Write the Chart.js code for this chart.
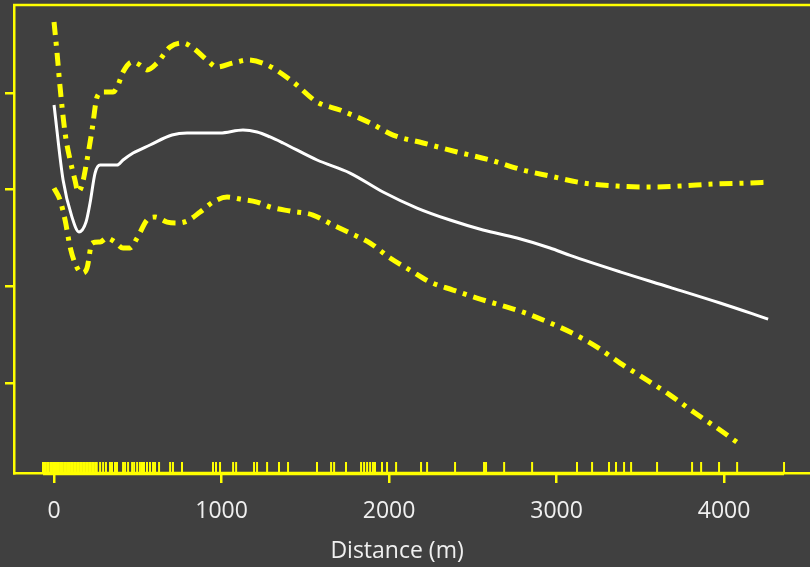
<!DOCTYPE html>
<html lang="en">
<head>
    <meta charset="UTF-8">
    <title>Distance effect</title>
    <script src="https://cdn.jsdelivr.net/npm/chart.js"></script>
    <style>
        html, body {
            margin: 0;
            padding: 0;
            overflow: hidden;
            background-color: #404040;
        }
        canvas {
            display: block;
        }
    </style>
</head>
<body>
    <canvas id="chart" width="810" height="567"></canvas>

    <script>
        // Smoothed fit along distance (m)
        const fitX = [0, 54, 107, 149, 191, 215, 245, 275, 316, 376, 412, 472, 573, 704, 794, 991, 1128, 1212, 1290, 1367, 1570, 1767, 1964, 2167, 2364, 2561, 2764, 2961, 3081, 3379, 3678, 3976, 4263];
        const fitY = [3.876, 3.100, 2.717, 2.562, 2.665, 2.862, 3.172, 3.255, 3.255, 3.255, 3.307, 3.379, 3.462, 3.565, 3.586, 3.586, 3.617, 3.596, 3.545, 3.483, 3.307, 3.172, 2.976, 2.810, 2.686, 2.583, 2.500, 2.397, 2.320, 2.150, 1.990, 1.828, 1.662];

        // Upper confidence band
        const upperX = [0, 18, 36, 66, 96, 125, 143, 167, 197, 227, 257, 293, 352, 382, 412, 466, 513, 555, 615, 693, 770, 830, 913, 973, 1069, 1158, 1272, 1427, 1570, 1707, 1887, 2024, 2203, 2406, 2603, 2800, 2961, 3158, 3361, 3558, 3737, 3934, 4137, 4275];
        const upperY = [4.734, 4.414, 4.062, 3.586, 3.307, 3.100, 2.976, 3.048, 3.307, 3.617, 3.959, 4.010, 4.010, 4.083, 4.217, 4.321, 4.290, 4.238, 4.310, 4.476, 4.517, 4.465, 4.341, 4.269, 4.310, 4.341, 4.290, 4.114, 3.907, 3.824, 3.690, 3.565, 3.483, 3.390, 3.307, 3.203, 3.141, 3.069, 3.038, 3.028, 3.038, 3.059, 3.069, 3.079];

        // Lower confidence band
        const lowerX = [0, 36, 66, 96, 125, 167, 197, 227, 275, 316, 364, 412, 454, 496, 555, 603, 675, 734, 794, 872, 949, 1033, 1110, 1212, 1290, 1409, 1546, 1666, 1767, 1887, 2006, 2125, 2245, 2382, 2525, 2663, 2800, 2949, 3081, 3242, 3379, 3540, 3678, 3827, 3976, 4084];
        const lowerY = [3.017, 2.893, 2.686, 2.407, 2.241, 2.138, 2.190, 2.448, 2.459, 2.500, 2.459, 2.397, 2.397, 2.500, 2.686, 2.717, 2.665, 2.655, 2.676, 2.769, 2.872, 2.924, 2.903, 2.872, 2.821, 2.779, 2.738, 2.634, 2.552, 2.448, 2.293, 2.169, 2.045, 1.962, 1.879, 1.807, 1.734, 1.631, 1.528, 1.372, 1.207, 1.031, 0.876, 0.690, 0.514, 0.379];

        // Observed distances (rug)
        const rugX = [-66, -58, -49, -40, -33, -22, -14, -6, 3, 11, 18, 27, 36, 44, 52, 61, 70, 78, 87, 95, 104, 112, 121, 130, 139, 147, 156, 165, 174, 183, 192, 201, 210, 219, 228, 237, 246, 255,
            275, 293, 310, 334, 346, 364, 376, 412, 424, 442, 466, 478, 496, 513, 525, 537, 555, 573, 591, 603, 627, 693, 710, 764,
            949, 967, 991, 1069, 1087, 1194, 1212, 1272, 1343, 1397, 1570, 1654, 1672, 1743, 1833, 1851, 1869, 1887, 1904, 1916, 1958, 1988,
            2042, 2191, 2227, 2394, 2567, 2579, 2687, 2854, 3122, 3212, 3313, 3355, 3403, 3445, 3600, 3809, 3863, 3970, 4078, 4358];

        const xTicks = [0, 1000, 2000, 3000, 4000];
        const yTicks = [1, 2, 3, 4];

        const YELLOW = '#ffff00';
        const TEXT = '#f0f0f0';
        const X_MIN = -239, X_MAX = 4513;
        const Y_MIN = 0.07, Y_MAX = 4.91;
        const RUG_Y = Y_MIN + 0.057;

        const toPoints = (xs, ys) => xs.map((x, i) => ({ x: x, y: ys[i] }));

        // background, top edge of the frame and the rug baseline
        const framePlugin = {
            id: 'frame',
            beforeDraw(chart) {
                const ctx = chart.ctx;
                ctx.save();
                ctx.fillStyle = '#404040';
                ctx.fillRect(0, 0, chart.width, chart.height);
                ctx.restore();
            },
            afterDraw(chart) {
                const { ctx, chartArea, scales } = chart;
                ctx.save();
                ctx.strokeStyle = YELLOW;
                ctx.lineWidth = 2.5;
                ctx.beginPath();
                ctx.moveTo(chartArea.left - 1, chartArea.top);
                ctx.lineTo(chart.width, chartArea.top);
                ctx.stroke();

                const x0 = scales.x.getPixelForValue(Math.min(...rugX));
                const x1 = scales.x.getPixelForValue(Math.max(...rugX));
                ctx.lineWidth = 3.5;
                ctx.beginPath();
                ctx.moveTo(x0, chartArea.bottom + 0.5);
                ctx.lineTo(x1, chartArea.bottom + 0.5);
                ctx.stroke();
                ctx.restore();
            }
        };

        const bandStyle = {
            borderColor: YELLOW,
            borderWidth: 5,
            borderDash: [13, 7, 4, 7],
            pointRadius: 0,
            cubicInterpolationMode: 'monotone',
            fill: false
        };

        new Chart(document.getElementById('chart'), {
            type: 'line',
            data: {
                datasets: [
                    Object.assign({ label: 'upper', data: toPoints(upperX, upperY) }, bandStyle),
                    Object.assign({ label: 'lower', data: toPoints(lowerX, lowerY) }, bandStyle),
                    {
                        label: 'fit',
                        data: toPoints(fitX, fitY),
                        borderColor: '#ffffff',
                        borderWidth: 3,
                        pointRadius: 0,
                        cubicInterpolationMode: 'monotone',
                        fill: false
                    },
                    {
                        label: 'rug',
                        type: 'scatter',
                        data: rugX.map(x => ({ x: x, y: RUG_Y })),
                        pointStyle: 'line',
                        rotation: 90,
                        pointRadius: 5.5,
                        borderWidth: 2,
                        borderColor: YELLOW,
                        backgroundColor: YELLOW
                    }
                ]
            },
            options: {
                responsive: false,
                animation: false,
                layout: { autoPadding: false, padding: { top: 5, right: 0, left: 0, bottom: 0 } },
                plugins: {
                    legend: { display: false },
                    tooltip: { enabled: false }
                },
                scales: {
                    x: {
                        type: 'linear',
                        min: X_MIN,
                        max: X_MAX,
                        afterBuildTicks: (scale) => { scale.ticks = xTicks.map(v => ({ value: v })); },
                        afterFit: (scale) => {
                            scale.height = 94;
                            scale.paddingLeft = 0;
                            scale.paddingRight = 0;
                        },
                        border: { color: YELLOW, width: 2.5 },
                        grid: { drawOnChartArea: false, color: YELLOW, lineWidth: 2.5, tickLength: 10 },
                        ticks: {
                            color: TEXT,
                            padding: 15,
                            maxRotation: 0,
                            callback: (v) => String(v),
                            font: { family: 'Open Sans', size: 23 }
                        },
                        title: {
                            display: true,
                            // trailing spaces pull the centred label a little to the left
                            text: 'Distance (m)\u00a0\u00a0\u00a0\u00a0\u00a0',
                            color: TEXT,
                            padding: { top: 0, bottom: 2 },
                            font: { family: 'Open Sans', size: 23 }
                        }
                    },
                    y: {
                        type: 'linear',
                        min: Y_MIN,
                        max: Y_MAX,
                        afterBuildTicks: (scale) => { scale.ticks = yTicks.map(v => ({ value: v })); },
                        afterFit: (scale) => {
                            scale.width = 14;
                            scale.paddingTop = 0;
                            scale.paddingBottom = 0;
                        },
                        border: { color: YELLOW, width: 2.5 },
                        grid: { drawOnChartArea: false, color: YELLOW, lineWidth: 2.5, tickLength: 9 },
                        ticks: { display: false }
                    }
                }
            },
            plugins: [framePlugin]
        });
    </script>
</body>
</html>
